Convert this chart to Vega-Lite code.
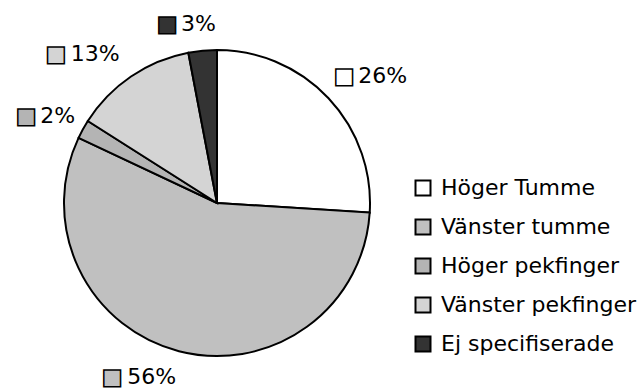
{
  "$schema": "https://vega.github.io/schema/vega-lite/v6.json",
  "width": 434,
  "height": 372,
  "autosize": "none",
  "padding": {"left": 0, "top": 17, "right": 208, "bottom": 0},
  "background": "white",
  "config": {"view": {"stroke": null}, "font": "DejaVu Sans"},
  "data": {
    "values": [
      {"kategori": "Höger Tumme", "andel": 26, "etikett": "26%", "ordning": 1},
      {"kategori": "Vänster tumme", "andel": 56, "etikett": "56%", "ordning": 2},
      {"kategori": "Höger pekfinger", "andel": 2, "etikett": "2%", "ordning": 3},
      {"kategori": "Vänster pekfinger", "andel": 13, "etikett": "13%", "ordning": 4},
      {"kategori": "Ej specifiserade", "andel": 3, "etikett": "3%", "ordning": 5}
    ]
  },
  "encoding": {
    "theta": {"field": "andel", "type": "quantitative", "stack": true},
    "order": {"field": "ordning", "type": "quantitative"}
  },
  "layer": [
    {
      "mark": {"type": "arc", "outerRadius": 153, "stroke": "black", "strokeWidth": 2},
      "encoding": {
        "color": {
          "field": "kategori",
          "type": "nominal",
          "scale": {
            "domain": ["Höger Tumme", "Vänster tumme", "Höger pekfinger", "Vänster pekfinger", "Ej specifiserade"],
            "range": ["#ffffff", "#c0c0c0", "#b4b4b4", "#d4d4d4", "#333333"]
          },
          "legend": {
            "orient": "none",
            "legendX": 412,
            "legendY": 160,
            "title": null,
            "symbolType": "square",
            "symbolSize": 225,
            "symbolStrokeColor": "black",
            "symbolStrokeWidth": 2,
            "symbolOpacity": 1,
            "labelFontSize": 22,
            "labelFont": "DejaVu Sans",
            "labelColor": "black",
            "labelOffset": 7,
            "labelLimit": 300,
            "rowPadding": 15,
            "padding": 0
          }
        }
      }
    },
    {
      "mark": {"type": "text", "radius": 180, "text": "■", "dx": -4, "dy": -4, "fontSize": 22, "stroke": "black", "strokeWidth": 1.5, "align": "center", "baseline": "middle"},
      "encoding": {
        "color": {"field": "kategori", "type": "nominal", "legend": null},
        "opacity": {"condition": {"test": "datum.ordning == 1", "value": 1}, "value": 0}
      }
    },
    {
      "mark": {"type": "text", "radius": 180, "dx": 10, "dy": -4, "fontSize": 22, "align": "left", "baseline": "middle", "fill": "black"},
      "encoding": {
        "text": {"field": "etikett", "type": "nominal"},
        "opacity": {"condition": {"test": "datum.ordning == 1", "value": 1}, "value": 0}
      }
    },
    {
      "mark": {"type": "text", "radius": 180, "text": "■", "dx": -60, "fontSize": 22, "stroke": "black", "strokeWidth": 1.5, "align": "center", "baseline": "middle"},
      "encoding": {
        "color": {"field": "kategori", "type": "nominal", "legend": null},
        "opacity": {"condition": {"test": "datum.ordning == 2 || datum.ordning == 4", "value": 1}, "value": 0}
      }
    },
    {
      "mark": {"type": "text", "radius": 180, "dx": -45, "fontSize": 22, "align": "left", "baseline": "middle", "fill": "black"},
      "encoding": {
        "text": {"field": "etikett", "type": "nominal"},
        "opacity": {"condition": {"test": "datum.ordning == 2 || datum.ordning == 4", "value": 1}, "value": 0}
      }
    },
    {
      "mark": {"type": "text", "radius": 180, "text": "■", "dx": -33, "fontSize": 22, "stroke": "black", "strokeWidth": 1.5, "align": "center", "baseline": "middle"},
      "encoding": {
        "color": {"field": "kategori", "type": "nominal", "legend": null},
        "opacity": {"condition": {"test": "datum.ordning == 3 || datum.ordning == 5", "value": 1}, "value": 0}
      }
    },
    {
      "mark": {"type": "text", "radius": 180, "dx": -19, "fontSize": 22, "align": "left", "baseline": "middle", "fill": "black"},
      "encoding": {
        "text": {"field": "etikett", "type": "nominal"},
        "opacity": {"condition": {"test": "datum.ordning == 3 || datum.ordning == 5", "value": 1}, "value": 0}
      }
    }
  ]
}
